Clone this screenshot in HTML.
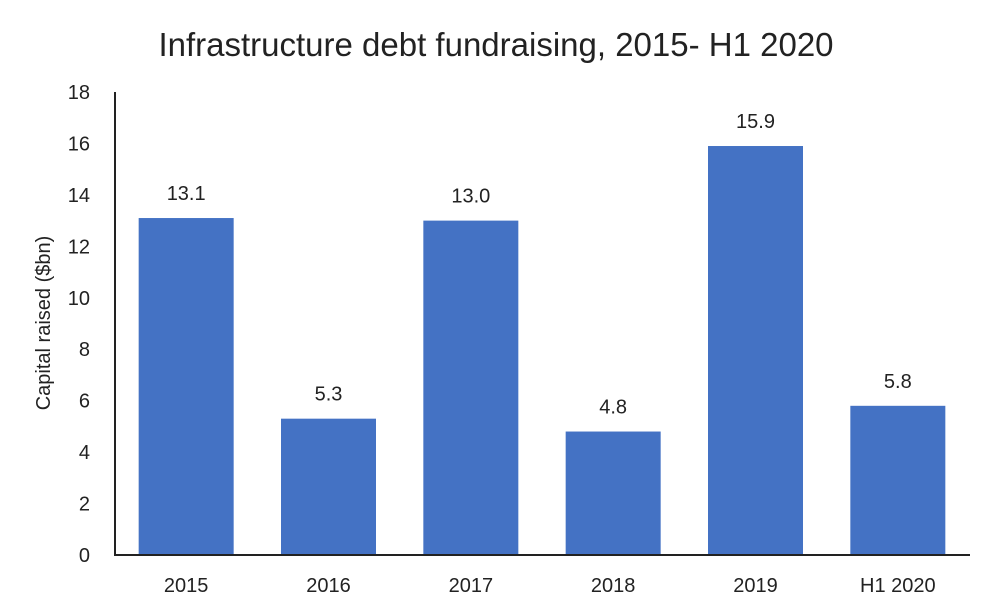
<!DOCTYPE html>
<html><head><meta charset="utf-8"><style>
body{margin:0;background:#fff;}
svg{display:block;font-family:"Liberation Sans",sans-serif;}
</style></head><body>
<svg id="chart" width="992" height="616" viewBox="0 0 992 616">
<text x="496" y="56" text-anchor="middle" font-size="33" fill="#222">Infrastructure debt fundraising, 2015- H1 2020</text>
<text transform="translate(50,323) rotate(-90)" text-anchor="middle" font-size="20" fill="#222">Capital raised ($bn)</text>
<g id="yticks"></g>
<g id="bars"></g>
<g id="xlabels"></g>
<line x1="115" y1="92" x2="115" y2="555" stroke="#222" stroke-width="2"/>
<line x1="114" y1="555" x2="970" y2="555" stroke="#222" stroke-width="2"/>
</svg>
<script>
const categories=["2015","2016","2017","2018","2019","H1 2020"];
const values=[13.1,5.3,13.0,4.8,15.9,5.8];
const valueLabels=["13.1","5.3","13.0","4.8","15.9","5.8"];
const yTicks=[0,2,4,6,8,10,12,14,16,18];
const NS="http://www.w3.org/2000/svg";
const x0=115,x1=969,yBase=555,yTop=92,yMax=18;
const y=v=>yBase-(v/yMax)*(yBase-yTop);
const band=(x1-x0)/categories.length,bw=95;
const yt=document.getElementById('yticks');
yTicks.forEach(t=>{
 const e=document.createElementNS(NS,'text');
 
 
 e.setAttribute('x',90);e.setAttribute('y',y(t)+7);
 e.setAttribute('text-anchor','end');e.setAttribute('font-size','20');e.setAttribute('fill','#222');
 e.textContent=t;yt.appendChild(e);
});
const bg=document.getElementById('bars'),xl=document.getElementById('xlabels');
categories.forEach((c,i)=>{
 const cx=x0+band*(i+0.5);
 const r=document.createElementNS(NS,'rect');
 
 
 r.setAttribute('x',cx-bw/2);r.setAttribute('y',y(values[i]));
 r.setAttribute('width',bw);r.setAttribute('height',yBase-y(values[i]));
 r.setAttribute('fill','#4472C4');bg.appendChild(r);
 const v=document.createElementNS(NS,'text');
 
 
 v.setAttribute('x',cx);v.setAttribute('y',y(values[i])-18);
 v.setAttribute('text-anchor','middle');v.setAttribute('font-size','20');v.setAttribute('fill','#222');
 v.textContent=valueLabels[i];bg.appendChild(v);
 const l=document.createElementNS(NS,'text');
 
 
 l.setAttribute('x',cx);l.setAttribute('y',592);
 l.setAttribute('text-anchor','middle');l.setAttribute('font-size','20');l.setAttribute('fill','#222');
 l.textContent=c;xl.appendChild(l);
});
</script>
</body></html>
